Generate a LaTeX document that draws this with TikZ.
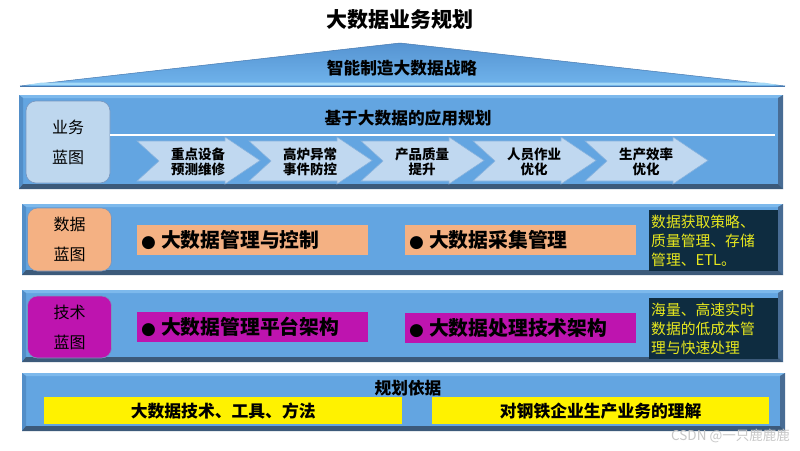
\documentclass[tikz,border=0pt]{standalone}
\usepackage{fontspec}
\setmainfont{Noto Sans CJK SC}
\newfontfamily\symfont{DejaVu Sans}
\usetikzlibrary{shapes.geometric}
\definecolor{pface}{RGB}{99,165,225}
\definecolor{ptop}{RGB}{125,185,236}
\definecolor{pleft}{RGB}{82,142,200}
\definecolor{pright}{RGB}{72,108,148}
\definecolor{pbottom}{RGB}{60,90,122}
\definecolor{lblue}{RGB}{190,215,238}
\definecolor{lborder}{RGB}{120,150,190}
\definecolor{chevfill}{RGB}{192,216,240}
\definecolor{chevline}{RGB}{135,178,222}
\definecolor{orangec}{RGB}{244,177,131}
\definecolor{magentac}{RGB}{190,20,175}
\definecolor{darkbox}{RGB}{14,44,64}
\definecolor{yeltext}{RGB}{232,232,30}
\definecolor{tritop}{RGB}{86,148,210}
\definecolor{tribot}{RGB}{112,180,236}
\definecolor{triband}{RGB}{165,218,247}
\definecolor{triedge}{RGB}{70,120,175}
\newcommand\bevelpanel[4]{%
  \fill[pface] (#1,#2) rectangle (#3,#4);
  \fill[ptop] (#1,#2) -- (#3,#2) -- ({#3-5},{#2+3}) -- ({#1+4},{#2+3}) -- cycle;
  \fill[pleft] (#1,#2) -- ({#1+4},{#2+3}) -- ({#1+4},{#4-5}) -- (#1,#4) -- cycle;
  \fill[pright] (#3,#2) -- (#3,#4) -- ({#3-5},{#4-5}) -- ({#3-5},{#2+3}) -- cycle;
  \fill[pbottom] (#1,#4) -- (#3,#4) -- ({#3-5},{#4-5}) -- ({#1+4},{#4-5}) -- cycle;
}
\newcommand\chevron[1]{%
  \fill[chevfill, draw=chevline, line width=0.6pt]
   (#1,141) -- ({#1+88},141) -- ({#1+88},137) -- ({#1+123},160.5) -- ({#1+88},184) -- ({#1+88},181)
   -- (#1,181) -- ({#1+22},161) -- cycle;
}
\newcommand\bul{{\symfont\fontsize{17}{20}\selectfont ●}\hspace{5pt}}
\tikzset{
  lbox/.style={draw=lborder, line width=0.6pt, rounded corners=10pt, minimum width=84pt, minimum height=#1, align=center, font=\fontsize{16}{30}\selectfont, inner sep=0pt},
  bar/.style={minimum height=30pt, text width=223pt, inner xsep=4pt, inner ysep=0pt, align=left, anchor=north west, font=\fontsize{19.8}{22}\selectfont\bfseries},
  dbox/.style={fill=darkbox, text=yeltext, anchor=north west, minimum width=129pt, text width=125pt, inner xsep=2pt, align=left, font=\fontsize{14.8}{18.8}\selectfont},
  chevtext/.style={align=center, font=\fontsize{13.5}{14.5}\selectfont\bfseries, inner sep=0pt},
  ybar/.style={fill=yellow, anchor=north west, minimum height=27pt, inner sep=0pt, font=\fontsize{16.8}{18}\selectfont\bfseries},
  heading/.style={font=\fontsize{16.7}{18}\selectfont\bfseries, inner sep=0pt}
}
\begin{document}
\begin{tikzpicture}[x=1pt,y=-1pt]
\useasboundingbox (0,0) rectangle (800,450);
\fill[white] (0,0) rectangle (800,450);
% title
\node[font=\fontsize{21}{22}\selectfont\bfseries, inner sep=0pt] (title) at (400,20) {大数据业务规划};
% triangle
\shade[top color=tritop, bottom color=tribot] (20,86) -- (400,43) -- (785,86) -- cycle;
\draw[triedge, line width=0.5pt] (20,86) -- (400,43) -- (785,86);
\fill[triband] (42,82.5) -- (763,82.5) -- (779,85) -- (26,85) -- cycle;
\draw[triedge, line width=1pt] (20,86) -- (785,86);
\node[heading] (strategy) at (402,68) {智能制造大数据战略};
% panel 1
\bevelpanel{19}{95}{783}{189}
\node[lbox=82pt, fill=lblue] (lb1) at (68,142) {业务\\蓝图};
\node[heading] (apphead) at (408,118) {基于大数据的应用规划};
\draw[white, line width=1.5pt] (lb1.east |- 0,135) coordinate (wl1) -- (775,135) coordinate (wl2);
\chevron{137}\chevron{249}\chevron{361}\chevron{473}\chevron{585}
\node[chevtext] (c1) at (198,162) {重点设备\\预测维修};
\node[chevtext] (c2) at (310,162) {高炉异常\\事件防控};
\node[chevtext] (c3) at (422,162) {产品质量\\提升};
\node[chevtext] (c4) at (534,162) {人员作业\\优化};
\node[chevtext] (c5) at (646,162) {生产效率\\优化};
% panel 2
\bevelpanel{22}{204}{783}{275}
\node[lbox=63pt, fill=orangec] (lb2) at (69.5,239.5) {数据\\蓝图};
\node[bar, fill=orangec] (b1) at (137,225) {\bul 大数据管理与控制};
\node[bar, fill=orangec] (b2) at (405,225) {\bul 大数据采集管理};
\node[dbox, minimum height=61pt] (d1) at (649,210) {数据获取策略、\\质量管理、存储\\管理、ETL。};
% panel 3
\bevelpanel{22}{290}{783}{362}
\node[lbox=62pt, fill=magentac] (lb3) at (69.5,327) {技术\\蓝图};
\node[bar, fill=magentac] (b3) at (137,312) {\bul 大数据管理平台架构};
\node[bar, fill=magentac] (b4) at (405,313) {\bul 大数据处理技术架构};
\node[dbox, minimum height=61pt] (d2) at (649,298) {海量、高速实时\\数据的低成本管\\理与快速处理};
% panel 4
\bevelpanel{22}{373}{785}{431}
\node[heading] (basis) at (408,388) {规划依据};
\node[ybar, minimum width=358pt] (y1) at (44,397) {大数据技术、工具、方法};
\node[ybar, minimum width=337pt] (y2) at (432,397) {对钢铁企业生产业务的理解};
% watermark
\node[text=black!22, font=\fontsize{13.5}{15}\selectfont, inner sep=0pt, anchor=east] (wm) at (790,436) {CSDN @一只鹿鹿鹿};
\end{tikzpicture}
\end{document}
